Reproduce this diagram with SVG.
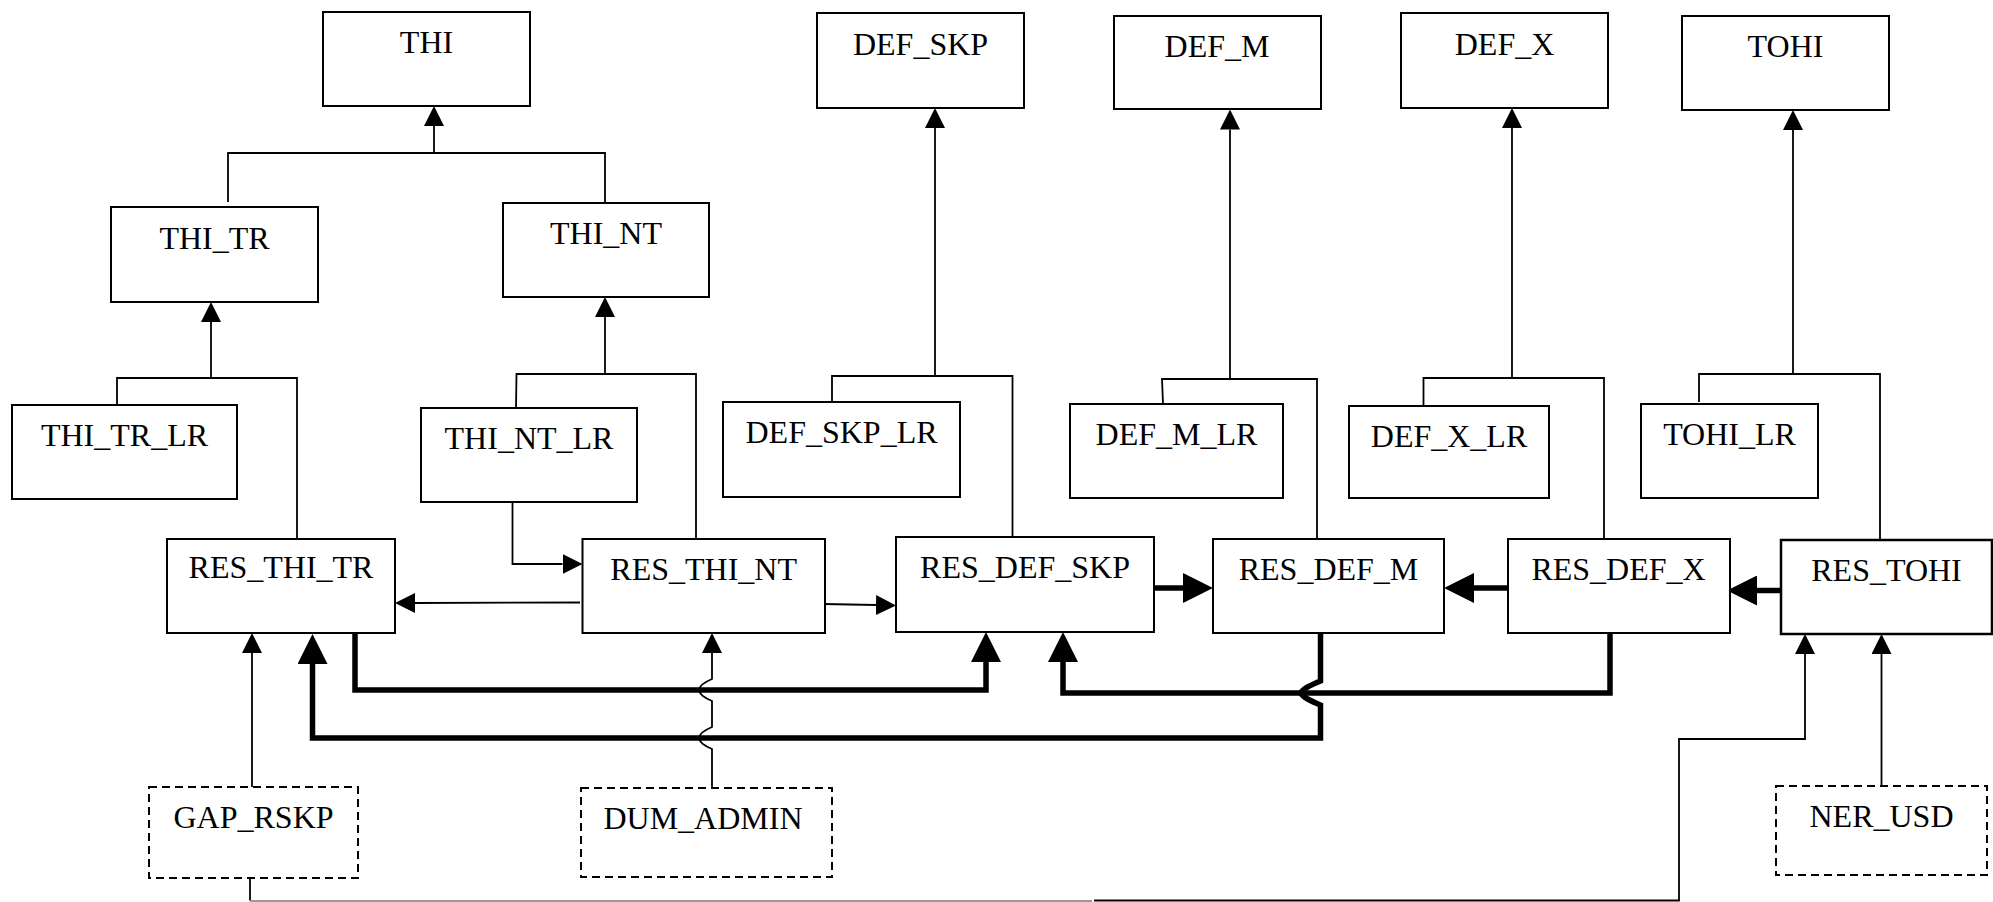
<svg xmlns="http://www.w3.org/2000/svg" width="1993" height="902" viewBox="0 0 1993 902">
<style>
.box{fill:#fff;stroke:#000;stroke-width:2}
.dash{fill:#fff;stroke:#000;stroke-width:2;stroke-dasharray:8 5}
.lbl{font-family:"Liberation Serif","Times New Roman",serif;font-size:32px;fill:#000;text-anchor:middle}
.thin{fill:none;stroke:#000;stroke-width:1.8}
.thick{fill:none;stroke:#000;stroke-width:5.5}
</style>
<defs>
<marker id="ah" markerUnits="userSpaceOnUse" viewBox="0 0 20 20" refX="0" refY="10" markerWidth="20" markerHeight="20" orient="auto">
<path d="M0,0 L20,10 L0,20 z" fill="#000"/>
</marker>
<marker id="ahT" markerUnits="userSpaceOnUse" viewBox="0 0 30 30" refX="0" refY="15" markerWidth="30" markerHeight="30" orient="auto">
<path d="M0,0 L30,15 L0,30 z" fill="#000"/>
</marker>
</defs>
<rect x="0" y="0" width="1993" height="902" fill="#fff"/>

<g id="connectors">
<!-- hierarchy trees -->
<path class="thin" d="M228,202 L228,153 L605,153 L605,203"/>
<path class="thin" d="M434,153 L434,126" marker-end="url(#ah)"/>

<path class="thin" d="M117,405 L117,378 L297,378 L297,539"/>
<path class="thin" d="M211,378 L211,322" marker-end="url(#ah)"/>

<path class="thin" d="M516,408 L516.5,374 L696,374 L696,539"/>
<path class="thin" d="M605,374 L605,317" marker-end="url(#ah)"/>

<path class="thin" d="M832,402 L832,376 L1012.5,376 L1012.5,537"/>
<path class="thin" d="M935,376 L935,128" marker-end="url(#ah)"/>

<path class="thin" d="M1163,404 L1162,379 L1317,379 L1317,539"/>
<path class="thin" d="M1230,379 L1230,129.5" marker-end="url(#ah)"/>

<path class="thin" d="M1423.5,406 L1423.5,378 L1604,378 L1604,539"/>
<path class="thin" d="M1512,378 L1512,128" marker-end="url(#ah)"/>

<path class="thin" d="M1699,402 L1699,374 L1880,374 L1880,540"/>
<path class="thin" d="M1793,374 L1793,130" marker-end="url(#ah)"/>

<!-- RES level thin arrows -->
<path class="thin" d="M512.5,502 L512.5,564 L562.5,564" marker-end="url(#ah)"/>
<path class="thin" d="M580,602.5 L415,603" marker-end="url(#ah)"/>
<path class="thin" d="M823,604 L876,605" marker-end="url(#ah)"/>
<path class="thin" d="M252,787 L252,653" marker-end="url(#ah)"/>
<path class="thin" d="M712,788 L712,749 C705,746 699,742 699,738 C699,734 705,730 712,727 L712,701 C705,698 699,694 699,690 C699,686 705,682 712,679 L712,653" marker-end="url(#ah)"/>
<path class="thin" d="M250,878 L250,900.5"/>
<path d="M250,901 L1092,901" fill="none" stroke="#9a9a9a" stroke-width="2"/>
<path class="thin" d="M1094,900.5 L1679,900.5 L1679,739 L1805,739 L1805,654" marker-end="url(#ah)"/>
<path class="thin" d="M1881.5,787 L1881.5,654" marker-end="url(#ah)"/>

<!-- thick arrows -->
<path class="thick" d="M1154,588 L1183,588" marker-end="url(#ahT)"/>
<path class="thick" d="M1508,588 L1474,588" marker-end="url(#ahT)"/>
<path class="thick" d="M1781,590.5 L1757,590.5" marker-end="url(#ahT)"/>
<path class="thick" d="M355,633 L355,690 L986,690 L986,662" marker-end="url(#ahT)"/>
<path class="thick" d="M1610,633 L1610,693 L1063,693 L1063,662" marker-end="url(#ahT)"/>
<path class="thick" d="M1320.5,633 L1320.5,681 C1311,685 1302,689 1301,693 C1302,697 1311,701 1320.5,705 L1320.5,738 L312.5,738 L312.5,664" marker-end="url(#ahT)"/>
</g>

<g id="THI"><rect class="box" x="323" y="12" width="207" height="94"/><text class="lbl" x="426.5" y="53">THI</text></g>
<g id="DEF_SKP"><rect class="box" x="817" y="13" width="207" height="95"/><text class="lbl" x="920.5" y="55">DEF_SKP</text></g>
<g id="DEF_M"><rect class="box" x="1114" y="16" width="207" height="93"/><text class="lbl" x="1217" y="57">DEF_M</text></g>
<g id="DEF_X"><rect class="box" x="1401" y="13" width="207" height="95"/><text class="lbl" x="1504.5" y="55">DEF_X</text></g>
<g id="TOHI"><rect class="box" x="1682" y="16" width="207" height="94"/><text class="lbl" x="1785.5" y="57">TOHI</text></g>

<g id="THI_TR"><rect class="box" x="111" y="207" width="207" height="95"/><text class="lbl" x="214.5" y="249">THI_TR</text></g>
<g id="THI_NT"><rect class="box" x="503" y="203" width="206" height="94"/><text class="lbl" x="606" y="244">THI_NT</text></g>

<g id="THI_TR_LR"><rect class="box" x="12" y="405" width="225" height="94"/><text class="lbl" x="124.5" y="446">THI_TR_LR</text></g>
<g id="THI_NT_LR"><rect class="box" x="421" y="408" width="216" height="94"/><text class="lbl" x="529" y="449">THI_NT_LR</text></g>
<g id="DEF_SKP_LR"><rect class="box" x="723" y="402" width="237" height="95"/><text class="lbl" x="841.5" y="443">DEF_SKP_LR</text></g>
<g id="DEF_M_LR"><rect class="box" x="1070" y="404" width="213" height="94"/><text class="lbl" x="1176.5" y="445">DEF_M_LR</text></g>
<g id="DEF_X_LR"><rect class="box" x="1349" y="406" width="200" height="92"/><text class="lbl" x="1449" y="447">DEF_X_LR</text></g>
<g id="TOHI_LR"><rect class="box" x="1641" y="404" width="177" height="94"/><text class="lbl" x="1729.5" y="445">TOHI_LR</text></g>

<g id="RES_THI_TR"><rect class="box" x="167" y="539" width="228" height="94"/><text class="lbl" x="281" y="578">RES_THI_TR</text></g>
<g id="RES_THI_NT"><rect class="box" x="582.5" y="539" width="242.5" height="94"/><text class="lbl" x="703.7" y="580">RES_THI_NT</text></g>
<g id="RES_DEF_SKP"><rect class="box" x="896" y="537" width="258" height="95"/><text class="lbl" x="1025" y="578">RES_DEF_SKP</text></g>
<g id="RES_DEF_M"><rect class="box" x="1213" y="539" width="231" height="94"/><text class="lbl" x="1328.5" y="580">RES_DEF_M</text></g>
<g id="RES_DEF_X"><rect class="box" x="1508" y="539" width="222" height="94"/><text class="lbl" x="1618.5" y="580">RES_DEF_X</text></g>
<g id="RES_TOHI"><rect class="box" x="1781" y="540" width="211" height="94" style="stroke-width:2.5"/><text class="lbl" x="1886.5" y="580.5">RES_TOHI</text></g>

<g id="GAP_RSKP"><rect class="dash" x="149" y="787" width="209" height="91"/><text class="lbl" x="253.5" y="828">GAP_RSKP</text></g>
<g id="DUM_ADMIN"><rect class="dash" x="581" y="788" width="251" height="89"/><text class="lbl" x="703" y="829">DUM_ADMIN</text></g>
<g id="NER_USD"><rect class="dash" x="1776" y="786" width="211" height="89"/><text class="lbl" x="1881.5" y="827">NER_USD</text></g>
</svg>
